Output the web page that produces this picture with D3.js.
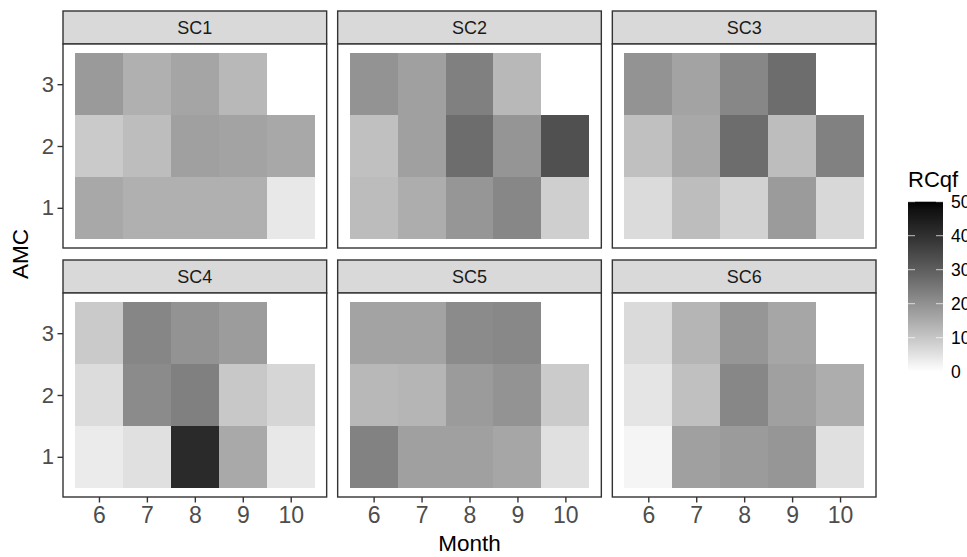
<!DOCTYPE html>
<html>
<head>
<meta charset="utf-8">
<script src="https://cdn.jsdelivr.net/npm/d3@7"></script>
<style>
  body { margin: 0; background: #fff; overflow: hidden; }
  svg { display: block; font-family: "Liberation Sans", Arial, sans-serif; }
</style>
</head>
<body>
<svg id="chart" width="967" height="557"></svg>
<script>
// months on x, AMC class on y, one facet per scenario
const months = [6, 7, 8, 9, 10];
const amcLevels = [1, 2, 3];
const scenarios = ["SC1", "SC2", "SC3", "SC4", "SC5", "SC6"];

// RCqf values, one row per AMC (1, 2, 3), columns are months 6..10
const sc1 = [[15.6, 14.1, 14.1, 14.1, 4.0], [9.4, 11.7, 17.1, 16.5, 15.6], [18.2, 14.1, 16.2, 12.6, null]];
const sc2 = [[11.9, 14.7, 19.0, 21.9, 8.5], [11.2, 17.1, 26.9, 19.2, 33.0], [19.5, 17.1, 23.2, 12.6, null]];
const sc3 = [[6.3, 11.7, 7.9, 18.0, 6.9], [11.2, 15.6, 26.9, 11.7, 23.0], [19.5, 16.5, 21.9, 26.9, null]];
const sc4 = [[3.5, 5.4, 41.4, 15.4, 4.0], [6.1, 21.1, 23.2, 9.7, 7.2], [9.4, 22.0, 19.5, 17.8, null]];
const sc5 = [[22.8, 17.1, 17.1, 16.0, 5.4], [12.6, 13.1, 18.0, 19.5, 9.2], [16.5, 16.5, 21.1, 21.6, null]];
const sc6 = [[1.8, 17.1, 18.0, 19.0, 5.4], [4.5, 11.2, 21.9, 17.1, 14.7], [6.5, 13.1, 19.0, 16.0, null]];

const legendTicks = [0, 10, 20, 30, 40, 50];

const values = [sc1, sc2, sc3, sc4, sc5, sc6];

// flatten into long format like ggplot would get it
const data = [];
scenarios.forEach((sc, i) => {
  amcLevels.forEach((a, r) => {
    months.forEach((m, c) => {
      const v = values[i][r][c];
      if (v !== null) data.push({ sc: sc, amc: a, month: m, RCqf: v });
    });
  });
});

const svg = d3.select("#chart");

const plotLeft = 63, plotRight = 876, plotTop = 11;
const gapX = 11, gapY = 12;
const stripH = 33, panelH = 204;
const panelW = (plotRight - plotLeft - 2 * gapX) / 3;
const plotBottom = plotTop + 2 * (stripH + panelH) + gapY;

const fill = d3.scaleLinear().domain([0, 50]).range(["#ffffff", "#000000"]).interpolate(d3.interpolateLab);

const x = d3.scaleLinear().domain([5.25, 10.75]).range([0, panelW]);
const y = d3.scaleLinear().domain([0.35, 3.65]).range([panelH, 0]);
const tileW = x(1) - x(0);
const tileH = y(0) - y(1);

scenarios.forEach((sc, i) => {
  const col = i % 3, row = Math.floor(i / 3);
  const px = plotLeft + col * (panelW + gapX);
  const py = plotTop + row * (stripH + panelH + gapY);

  const g = svg.append("g").attr("transform", `translate(${px}, ${py})`);

  // strip
  g.append("rect")
    .attr("width", panelW).attr("height", stripH)
    .attr("fill", "#d9d9d9").attr("stroke", "#333333").attr("stroke-width", 1.4);
  g.append("text")
    .attr("x", panelW / 2).attr("y", stripH / 2)
    .attr("dy", "0.35em")
    .attr("text-anchor", "middle")
    .style("font-size", "18px")
    .style("fill", "#1a1a1a")
    .text(sc);

  const panel = g.append("g").attr("transform", `translate(0, ${stripH})`);
  panel.append("rect").attr("width", panelW).attr("height", panelH).attr("fill", "#fff");

  // tiles
  panel.selectAll("rect.tile")
    .data(data.filter(d => d.sc === sc))
    .enter()
    .append("rect")
    .attr("class", "tile")
    .attr("x", d => x(d.month - 0.5))
    .attr("y", d => y(d.amc + 0.5))
    .attr("width", tileW)
    .attr("height", tileH)
    .attr("fill", d => fill(d.RCqf))
    .attr("shape-rendering", "crispEdges");

  panel.append("rect")
    .attr("width", panelW).attr("height", panelH)
    .attr("fill", "none").attr("stroke", "#333333").attr("stroke-width", 1.4);

  // x axis on bottom row
  if (row === 1) {
    const ax = panel.append("g")
      .attr("transform", `translate(0, ${panelH})`)
      .call(d3.axisBottom(x).tickValues(months).tickFormat(d3.format("d")).tickSize(5.5).tickPadding(4.5));
    ax.select(".domain").remove();
    ax.selectAll("line").attr("stroke", "#333333").attr("stroke-width", 1.4);
    ax.selectAll("text").style("font-size", "23px").style("fill", "#4d4d4d").attr("font-family", null);
  }
  // y axis on left column
  if (col === 0) {
    const ay = panel.append("g")
      .call(d3.axisLeft(y).tickValues(amcLevels).tickFormat(d3.format("d")).tickSize(5.5).tickPadding(3.5));
    ay.select(".domain").remove();
    ay.selectAll("line").attr("stroke", "#333333").attr("stroke-width", 1.4);
    ay.selectAll("text").style("font-size", "22px").style("fill", "#4d4d4d").attr("font-family", null);
  }
});

// axis titles
svg.append("text")
  .attr("x", (plotLeft + plotRight) / 2).attr("y", 551)
  .attr("text-anchor", "middle")
  .style("font-size", "22.5px")
  .text("Month");

svg.append("text")
  .attr("transform", `translate(28, ${(plotTop + plotBottom) / 2}) rotate(-90)`)
  .attr("text-anchor", "middle")
  .style("font-size", "22.5px")
  .text("AMC");

// legend colourbar
const lgX = 908, lgW = 35, lgTop = 201.7, lgBottom = 371.7;
const ly = d3.scaleLinear().domain([0, 50]).range([lgBottom, lgTop]);

const defs = svg.append("defs");
const grad = defs.append("linearGradient")
  .attr("id", "rcqf-grad")
  .attr("x1", 0).attr("y1", 1).attr("x2", 0).attr("y2", 0);
d3.range(0, 51, 2.5).forEach(v => {
  grad.append("stop").attr("offset", v / 50).attr("stop-color", fill(v));
});

svg.append("text")
  .attr("x", lgX).attr("y", 187)
  .style("font-size", "22px")
  .text("RCqf");

svg.append("rect")
  .attr("x", lgX).attr("y", lgTop)
  .attr("width", lgW).attr("height", lgBottom - lgTop)
  .attr("fill", "url(#rcqf-grad)");

const lt = svg.append("g");
legendTicks.forEach(t => {
  lt.append("line")
    .attr("x1", lgX).attr("x2", lgX + 7)
    .attr("y1", ly(t)).attr("y2", ly(t))
    .attr("stroke", "#ffffff").attr("stroke-opacity", 0.7).attr("stroke-width", 1);
  lt.append("line")
    .attr("x1", lgX + lgW - 7).attr("x2", lgX + lgW)
    .attr("y1", ly(t)).attr("y2", ly(t))
    .attr("stroke", "#ffffff").attr("stroke-opacity", 0.7).attr("stroke-width", 1);
  lt.append("text")
    .attr("x", lgX + lgW + 8).attr("y", ly(t))
    .attr("dy", "0.35em")
    .style("font-size", "17.5px")
    .text(t);
});
</script>
</body>
</html>
